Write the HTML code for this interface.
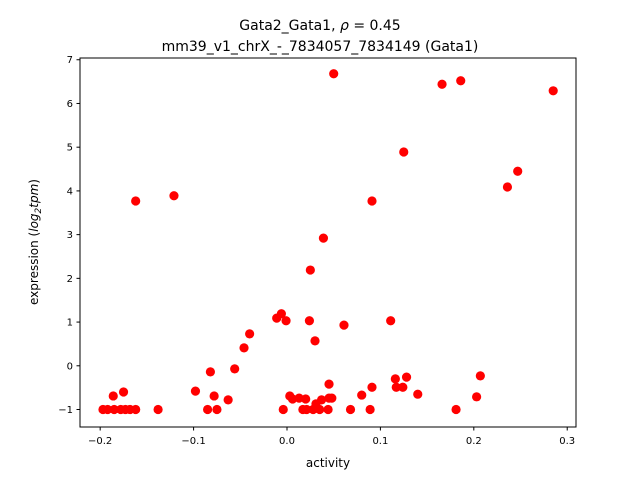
<!DOCTYPE html>
<html><head><meta charset="utf-8"><style>
body{margin:0;background:#fff;font-family:"DejaVu Sans","Liberation Sans",sans-serif;}
</style></head><body>
<svg id="chart" width="640" height="480" xmlns="http://www.w3.org/2000/svg">
<rect width="640" height="480" fill="#fff"/>
<text x="320" y="30" text-anchor="middle" font-size="14">Gata2_Gata1, <tspan font-style="italic">ρ</tspan> = 0.45</text>
<text x="320" y="51" text-anchor="middle" font-size="14">mm39_v1_chrX_-_7834057_7834149 (Gata1)</text>
<g id="marks"></g>
<rect x="80" y="58" width="496" height="369" fill="none" stroke="#000" stroke-width="1"/>
<g id="xt"></g><g id="yt"></g>
<text x="328" y="467" text-anchor="middle" font-size="12">activity</text>
<text transform="translate(38,242) rotate(-90)" text-anchor="middle" font-size="12">expression (<tspan font-style="italic">log</tspan><tspan font-style="italic" font-size="9" dy="3">2</tspan><tspan font-style="italic" dy="-3">tpm</tspan>)</text>
</svg>
<script>
const xs=[-0.197,-0.192,-0.185,-0.178,-0.173,-0.168,-0.162,-0.138,-0.085,-0.075,-0.004,0.017,0.021,0.028,0.044,0.035,0.068,0.089,0.181,
-0.186,-0.175,-0.098,-0.082,-0.078,-0.063,-0.056,-0.046,-0.040,-0.011,-0.006,-0.001,0.024,0.030,0.003,0.006,0.013,0.020,0.031,0.037,0.045,0.045,0.048,0.061,0.111,0.080,0.091,0.116,0.117,0.124,0.128,0.140,0.203,0.207,
-0.162,-0.121,0.039,0.025,0.091,0.125,0.050,0.166,0.186,0.285,0.236,0.247];
const ys=[-1,-1,-1,-1,-1,-1,-1,-1,-1,-1,-1,-1,-1,-1,-1,-1,-1,-1,-1,
-0.69,-0.60,-0.58,-0.14,-0.69,-0.78,-0.07,0.41,0.73,1.09,1.19,1.03,1.03,0.57,-0.69,-0.76,-0.74,-0.76,-0.87,-0.78,-0.42,-0.74,-0.74,0.93,1.03,-0.67,-0.49,-0.30,-0.49,-0.49,-0.26,-0.65,-0.71,-0.23,
3.77,3.89,2.92,2.19,3.77,4.89,6.68,6.44,6.52,6.29,4.09,4.45];
const xTicks=[-0.2,-0.1,0.0,0.1,0.2,0.3];
const xTickLabels=["−0.2","−0.1","0.0","0.1","0.2","0.3"];
const yTicks=[-1,0,1,2,3,4,5,6,7];
const yTickLabels=["−1","0","1","2","3","4","5","6","7"];
const NS="http://www.w3.org/2000/svg";
const X0=80,X1=576,Y0=427,Y1=58,xmin=-0.2216,xmax=0.3094,ymin=-1.40,ymax=7.04;
const sx=v=>X0+(v-xmin)/(xmax-xmin)*(X1-X0);
const sy=v=>Y0-(v-ymin)/(ymax-ymin)*(Y0-Y1);
function mk(t,a,p){const e=document.createElementNS(NS,t);for(const k in a)e.setAttribute(k,a[k]);p.appendChild(e);return e;}
const m=document.getElementById('marks');
xs.forEach((x,i)=>{const c=mk('circle',{cx:sx(x),cy:sy(ys[i]),r:4.6,fill:'#ff0000'},m);

});
const xt=document.getElementById('xt');
xTicks.forEach((v,i)=>{const g=mk('g',{},xt);


mk('line',{x1:sx(v),x2:sx(v),y1:Y0,y2:Y0+3.5,stroke:'#000'},g);
const t=mk('text',{x:sx(v),y:Y0+17,'text-anchor':'middle','font-size':'10'},g);t.textContent=xTickLabels[i];});
const yt=document.getElementById('yt');
yTicks.forEach((v,i)=>{const g=mk('g',{},yt);


mk('line',{x1:X0-3.5,x2:X0,y1:sy(v),y2:sy(v),stroke:'#000'},g);
const t=mk('text',{x:X0-7,y:sy(v)+3.5,'text-anchor':'end','font-size':'10'},g);t.textContent=yTickLabels[i];});
</script>
</body></html>
